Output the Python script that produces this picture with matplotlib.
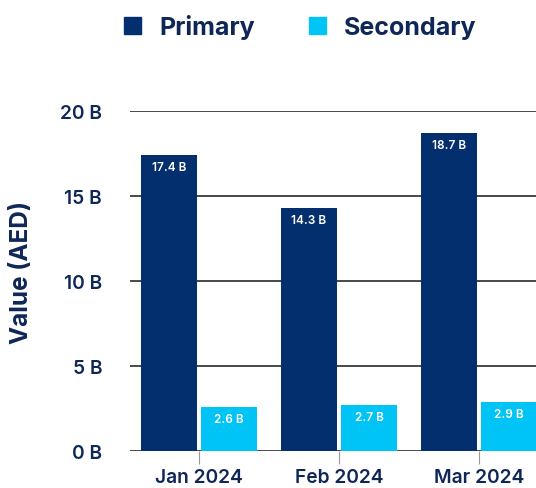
import numpy as np
import matplotlib
matplotlib.use("Agg")
from matplotlib import pyplot as plt
from matplotlib.patches import Patch

plt.rcParams['font.family'] = ['Inter', 'DejaVu Sans']

months = ['Jan 2024', 'Feb 2024', 'Mar 2024']
primary = [17.4, 14.3, 18.7]
secondary = [2.6, 2.7, 2.9]
yticks = [0, 5, 10, 15, 20]

navy = '#032f6e'
cyan = '#00c3f6'
text_col = '#0f2757'

fig = plt.figure(figsize=(5.36, 4.89), dpi=100)
ax = fig.add_axes([130/536, 37/489, 418/536, 340/489])

x = np.arange(len(months))
w = 0.4
off = 0.215
b1 = ax.bar(x - off, primary, w, color=navy, zorder=3)
b2 = ax.bar(x + off, secondary, w, color=cyan, zorder=3)

for bars, vals in ((b1, primary), (b2, secondary)):
    for r, v in zip(bars, vals):
        ax.text(r.get_x() + r.get_width()/2, v - 0.7, f'{v} B', ha='center', va='center',
                color='white', fontsize=8.5, fontweight='semibold', zorder=4)

ax.set_xlim(-0.493, 2.493)
ax.set_ylim(0, 20)
ax.set_yticks(yticks)
ax.set_yticklabels([f'{t} B' for t in yticks])
ax.set_xticks(x)
ax.set_xticklabels(months)
for s in ax.spines.values():
    s.set_visible(False)
ax.yaxis.grid(True, color='#3a3a3a', linewidth=1.3, zorder=1)
ax.tick_params(axis='y', length=0, pad=20, labelsize=13.8, labelcolor=text_col)
ax.tick_params(axis='x', length=9.5, width=0.8, color='#999999', pad=3,
               labelsize=13.8, labelcolor=text_col)
for lab in ax.get_xticklabels() + ax.get_yticklabels():
    lab.set_fontweight('semibold')

fig.text(22/536, 1 - 272/489, 'Value (AED)', rotation=90, ha='center', va='center',
         fontsize=17.5, fontweight='bold', color=text_col)

handles = [Patch(color=navy, label='Primary'), Patch(color=cyan, label='Secondary')]
fig.legend(handles=handles, loc='center', bbox_to_anchor=(300/536, 1 - 28/489), ncol=2,
           frameon=False, prop={'size': 18, 'weight': 'bold'}, labelcolor=text_col,
           handlelength=0.68, handleheight=0.68, handletextpad=0.72, columnspacing=2.16)

fig.savefig('out.png', dpi=100, facecolor='white')
